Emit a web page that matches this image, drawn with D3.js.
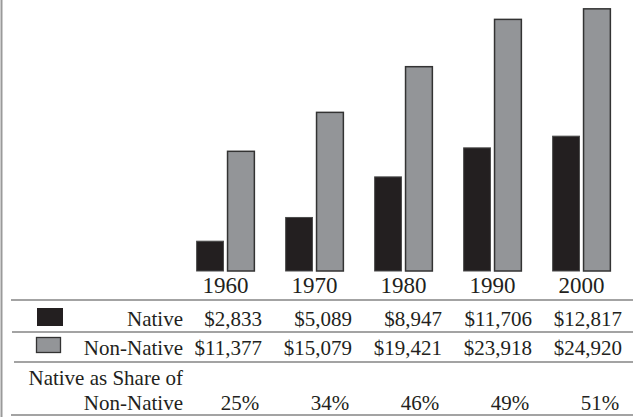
<!DOCTYPE html>
<html>
<head>
<meta charset="utf-8">
<script src="https://cdn.jsdelivr.net/npm/d3@7"></script>
<style>
  body { margin: 0; background: #fff; }
  svg { display: block; }
  text { font-family: "Liberation Serif", "Times New Roman", serif; fill: #231f20; }
</style>
</head>
<body>
<svg id="chart"></svg>
<script>
// data
var years = ["1960", "1970", "1980", "1990", "2000"];
var nativeIncome = [2833, 5089, 8947, 11706, 12817];
var nonNativeIncome = [11377, 15079, 19421, 23918, 24920];
var shareLabels = ["25%", "34%", "46%", "49%", "51%"];
var seriesNames = ["Native", "Non-Native"];

var width = 634, height = 417;
var fillColor = { "Native": "#231f20", "Non-Native": "#939598" };
var strokeColor = { "Native": "#4a4a4a", "Non-Native": "#333" };

var svg = d3.select("#chart").attr("width", width).attr("height", height);

// bars
var x = d3.scaleBand().domain(years).range([181, 626]).paddingInner(0.34).paddingOuter(0.17);
var xs = d3.scaleBand().domain(seriesNames).range([0, x.bandwidth()]).paddingInner(0.1);
var y = d3.scaleLinear().domain([0, 25000]).range([271, 8]);

var rows = years.map(function (yr, i) {
  return { year: yr, values: [
    { name: "Native", value: nativeIncome[i] },
    { name: "Non-Native", value: nonNativeIncome[i] }
  ] };
});

var groups = svg.selectAll(".yr").data(rows).enter()
  .append("g")
    .attr("class", "yr")
    .attr("transform", function (d) { return "translate(" + x(d.year) + ",0)"; });

groups.selectAll("rect").data(function (d) { return d.values; }).enter()
  .append("rect")
    .attr("x", function (d) { return xs(d.name) + 0.5; })
    .attr("y", function (d) { return y(d.value); })
    .attr("width", xs.bandwidth() - 1)
    .attr("height", function (d) { return y(0) - y(d.value); })
    .attr("fill", function (d) { return fillColor[d.name]; })
    .attr("stroke", function (d) { return strokeColor[d.name]; })
    .attr("stroke-width", function (d) { return d.name == "Native" ? 1 : 1.5; });

// year labels under the bars
groups.append("text")
  .attr("x", x.bandwidth() / 2)
  .attr("y", 293)
  .attr("text-anchor", "middle")
  .style("font-size", "23px")
  .text(function (d) { return d.year; });

// left border
svg.append("line")
  .attr("x1", 1.5).attr("x2", 1.5).attr("y1", 0).attr("y2", height)
  .attr("stroke", "#9a9a9a").attr("stroke-width", 2);

// table rules
var rules = [
  { y: 300, x0: 11 },
  { y: 332, x0: 12 },
  { y: 362, x0: 14 },
  { y: 415, x0: 11 }
];
svg.selectAll(".rule").data(rules).enter()
  .append("line")
    .attr("class", "rule")
    .attr("x1", function (d) { return d.x0; })
    .attr("x2", 633)
    .attr("y1", function (d) { return d.y; })
    .attr("y2", function (d) { return d.y; })
    .attr("stroke", "#a3a3a3")
    .attr("stroke-width", 2);

// table columns: numbers are right aligned
var col = d3.scalePoint().domain(years).range([262, 622]);
var fmt = d3.format("$,");

// legend swatches
svg.append("rect")
  .attr("x", 37).attr("y", 308).attr("width", 26).attr("height", 18)
  .attr("fill", fillColor["Native"]);
svg.append("rect")
  .attr("x", 36.5).attr("y", 337.5).attr("width", 24).attr("height", 15)
  .attr("fill", fillColor["Non-Native"]).attr("stroke", "#333").attr("stroke-width", 1.3);

var labelX = 183;
var tableRows = [
  { label: "Native", values: nativeIncome, base: 326 },
  { label: "Non-Native", values: nonNativeIncome, base: 355 }
];

tableRows.forEach(function (r) {
  svg.append("text")
    .attr("x", labelX).attr("y", r.base)
    .attr("text-anchor", "end")
    .style("font-size", "21px")
    .text(r.label);
  svg.selectAll(null).data(r.values).enter()
    .append("text")
      .attr("x", function (d, i) { return col(years[i]); })
      .attr("y", r.base)
      .attr("text-anchor", "end")
      .style("font-size", "21px")
      .text(function (d) { return fmt(d); });
});

svg.append("text")
  .attr("x", labelX).attr("y", 385)
  .attr("text-anchor", "end")
  .style("font-size", "21px")
  .text("Native as Share of");
svg.append("text")
  .attr("x", labelX).attr("y", 410)
  .attr("text-anchor", "end")
  .style("font-size", "21px")
  .text("Non-Native");

svg.selectAll(".share").data(shareLabels).enter()
  .append("text")
    .attr("class", "share")
    .attr("x", function (d, i) { return col(years[i]) - 22; })
    .attr("y", 410)
    .attr("text-anchor", "middle")
    .style("font-size", "21px")
    .text(function (d) { return d; });
</script>
</body>
</html>
